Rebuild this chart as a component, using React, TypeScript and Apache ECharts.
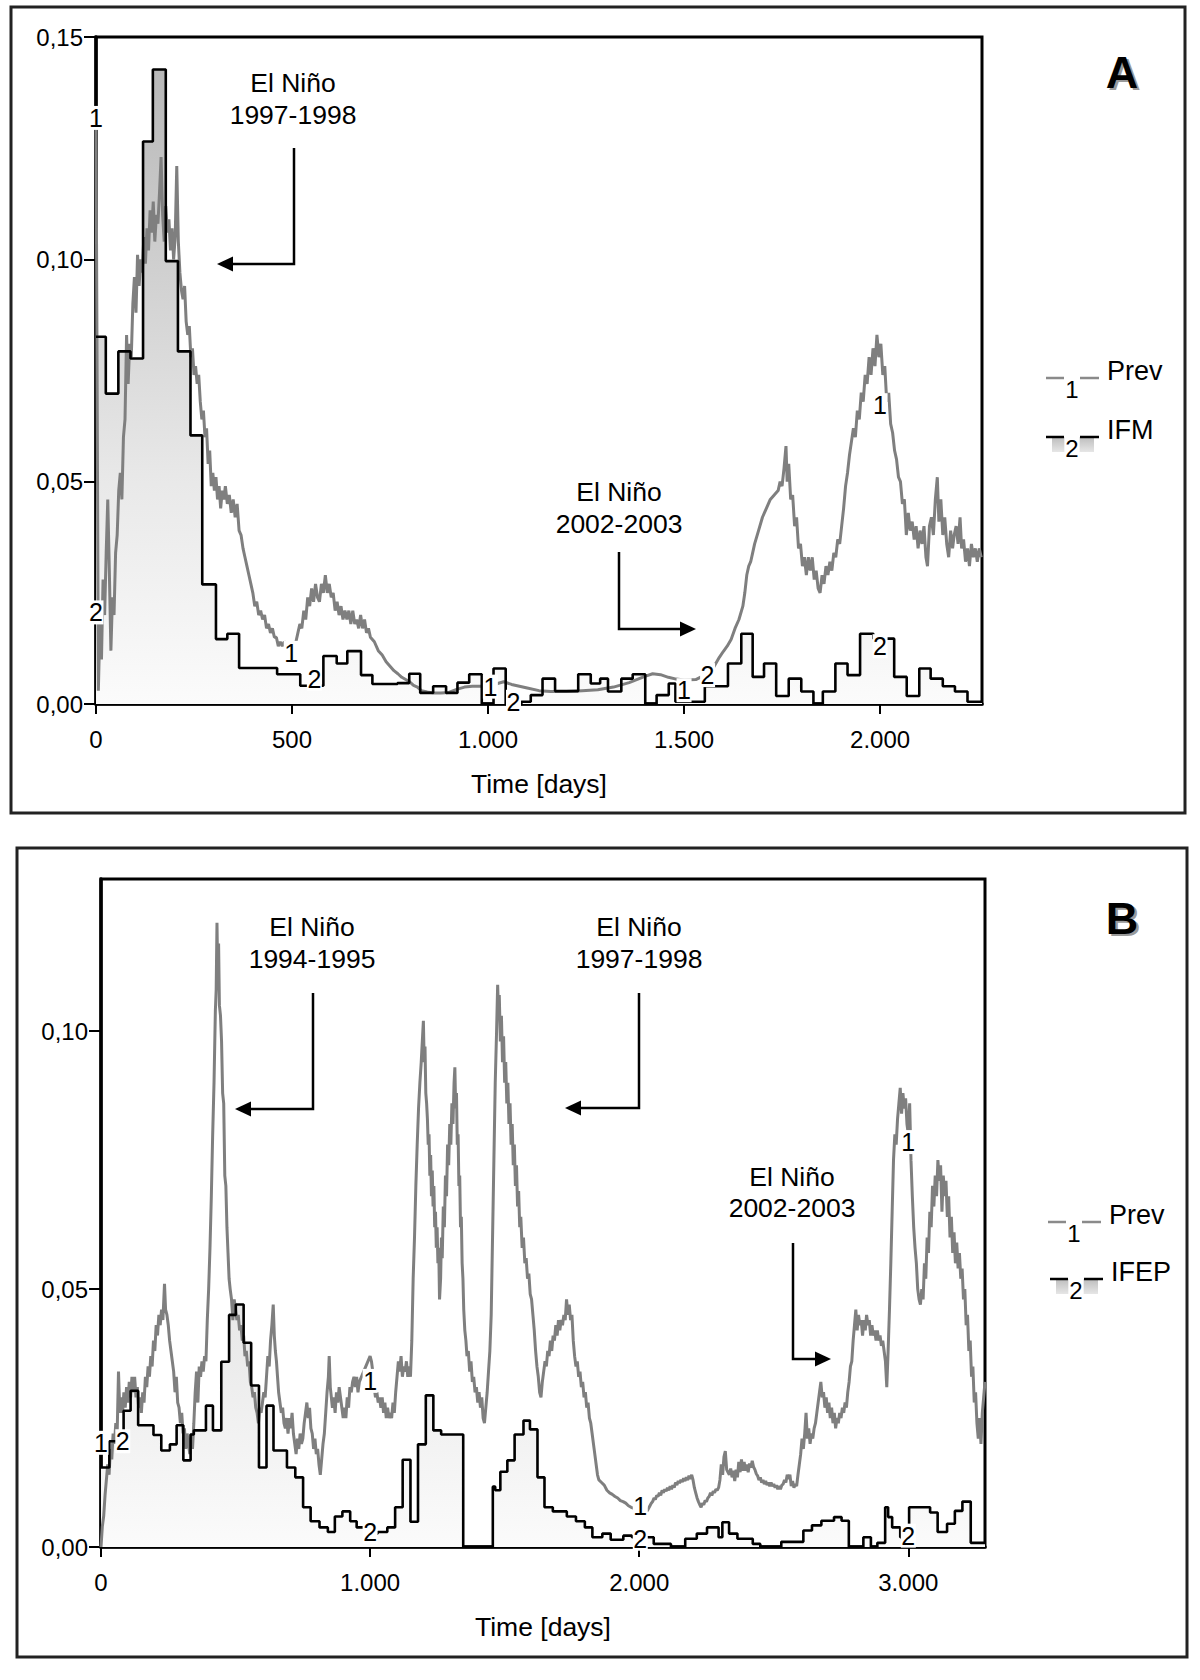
import React, { useEffect, useRef } from "react";
import * as echarts from "echarts";

const FONT = '"Liberation Sans", Arial, Helvetica, sans-serif';

// ---------------- Panel A ----------------
const xMaxA = 2260;
const yMaxA = 0.15;
const xTicksA = [0, 500, 1000, 1500, 2000];
const yTicksA = [0, 0.05, 0.1, 0.15];

const prevA: [number, number][] = [
  [0, 0.132], [3, 0.07], [6, 0.003], [10, 0.018], [14, 0.01], [18, 0.028], [22, 0.02], [26, 0.034],
  [30, 0.046], [34, 0.03], [38, 0.012], [42, 0.024], [46, 0.02], [50, 0.034], [54, 0.038], [58, 0.048],
  [62, 0.052], [66, 0.046], [70, 0.06], [74, 0.064], [78, 0.083], [82, 0.072], [86, 0.081], [90, 0.078],
  [94, 0.09], [98, 0.096], [102, 0.088], [106, 0.101], [110, 0.094], [114, 0.1], [118, 0.097], [122, 0.105],
  [126, 0.099], [130, 0.107], [134, 0.102], [138, 0.111], [142, 0.106], [146, 0.113], [150, 0.104], [154, 0.11],
  [158, 0.108], [162, 0.115], [166, 0.123], [170, 0.11], [174, 0.104], [178, 0.112], [182, 0.106], [186, 0.109],
  [190, 0.102], [194, 0.107], [198, 0.1], [202, 0.105], [206, 0.121], [210, 0.104], [214, 0.097], [218, 0.093],
  [222, 0.091], [226, 0.094], [230, 0.086], [234, 0.083], [238, 0.085], [242, 0.078], [246, 0.08], [250, 0.074],
  [254, 0.076], [258, 0.072], [262, 0.074], [266, 0.068], [270, 0.064], [274, 0.066], [278, 0.06], [282, 0.062],
  [286, 0.054], [290, 0.057], [294, 0.049], [298, 0.052], [302, 0.048], [306, 0.051], [310, 0.046], [314, 0.049],
  [318, 0.044], [322, 0.048], [326, 0.046], [330, 0.049], [335, 0.045], [340, 0.047], [345, 0.043], [350, 0.046],
  [355, 0.042], [360, 0.045], [365, 0.039], [370, 0.038], [375, 0.035], [380, 0.033], [385, 0.031], [390, 0.029],
  [395, 0.027], [400, 0.025], [405, 0.022], [410, 0.023], [415, 0.02], [420, 0.021], [425, 0.019], [430, 0.02],
  [435, 0.017], [440, 0.018], [445, 0.016], [450, 0.017], [455, 0.015], [460, 0.015], [465, 0.013], [470, 0.014],
  [475, 0.013], [480, 0.014], [490, 0.013], [500, 0.0125], [510, 0.014], [515, 0.016], [520, 0.018], [525, 0.017],
  [530, 0.021], [535, 0.019], [540, 0.024], [545, 0.022], [550, 0.026], [555, 0.023], [560, 0.027], [565, 0.024],
  [570, 0.023], [575, 0.027], [580, 0.025], [585, 0.029], [590, 0.025], [595, 0.027], [600, 0.024], [605, 0.025],
  [610, 0.021], [615, 0.023], [620, 0.02], [625, 0.022], [630, 0.019], [635, 0.021], [640, 0.019], [645, 0.021],
  [650, 0.018], [655, 0.021], [660, 0.018], [665, 0.019], [670, 0.017], [675, 0.02], [680, 0.017], [685, 0.019],
  [690, 0.016], [695, 0.017], [700, 0.015], [710, 0.014], [720, 0.012], [730, 0.011], [740, 0.0095], [750, 0.0085],
  [760, 0.0075], [770, 0.0068], [780, 0.006], [790, 0.0055], [800, 0.005], [810, 0.0042], [820, 0.0038], [830, 0.003],
  [845, 0.0027], [860, 0.0025], [880, 0.0025], [900, 0.0026], [920, 0.0033], [940, 0.0038], [960, 0.004], [980, 0.004],
  [1000, 0.004], [1020, 0.0045], [1040, 0.005], [1060, 0.0044], [1080, 0.004], [1100, 0.0036], [1130, 0.003], [1160, 0.0028],
  [1200, 0.0028], [1240, 0.003], [1280, 0.0032], [1320, 0.0038], [1360, 0.0048], [1400, 0.0062], [1420, 0.0068], [1440, 0.0066],
  [1460, 0.006], [1480, 0.0056], [1500, 0.0054], [1530, 0.0055], [1555, 0.0066], [1575, 0.0082], [1590, 0.0105], [1600, 0.0118],
  [1610, 0.013], [1620, 0.0145], [1630, 0.017], [1640, 0.019], [1650, 0.022], [1655, 0.025], [1660, 0.029], [1665, 0.031],
  [1670, 0.032], [1675, 0.034], [1680, 0.036], [1690, 0.039], [1700, 0.042], [1710, 0.044], [1720, 0.046], [1730, 0.047],
  [1740, 0.048], [1745, 0.05], [1750, 0.049], [1755, 0.053], [1760, 0.058], [1763, 0.05], [1767, 0.054], [1772, 0.046],
  [1777, 0.047], [1782, 0.04], [1787, 0.042], [1792, 0.035], [1797, 0.036], [1802, 0.031], [1807, 0.033], [1812, 0.029],
  [1817, 0.033], [1822, 0.03], [1827, 0.033], [1832, 0.028], [1837, 0.03], [1842, 0.026], [1847, 0.025], [1852, 0.029],
  [1857, 0.027], [1862, 0.031], [1867, 0.029], [1872, 0.032], [1877, 0.03], [1882, 0.034], [1887, 0.033], [1892, 0.037],
  [1897, 0.036], [1902, 0.04], [1907, 0.044], [1912, 0.049], [1917, 0.052], [1922, 0.056], [1927, 0.059], [1932, 0.062],
  [1937, 0.06], [1942, 0.066], [1947, 0.064], [1952, 0.07], [1957, 0.068], [1962, 0.074], [1967, 0.072], [1972, 0.078],
  [1977, 0.074], [1982, 0.08], [1987, 0.076], [1992, 0.083], [1997, 0.078], [2002, 0.081], [2007, 0.074], [2012, 0.076],
  [2017, 0.068], [2022, 0.07], [2027, 0.063], [2032, 0.061], [2037, 0.057], [2042, 0.055], [2047, 0.051], [2052, 0.05],
  [2057, 0.045], [2062, 0.046], [2067, 0.038], [2072, 0.043], [2077, 0.039], [2082, 0.041], [2087, 0.037], [2092, 0.04],
  [2097, 0.035], [2102, 0.039], [2107, 0.036], [2112, 0.04], [2117, 0.033], [2121, 0.031], [2126, 0.04], [2131, 0.042],
  [2136, 0.038], [2141, 0.046], [2146, 0.051], [2150, 0.041], [2155, 0.046], [2160, 0.038], [2165, 0.042], [2170, 0.036],
  [2175, 0.033], [2180, 0.039], [2185, 0.035], [2189, 0.038], [2194, 0.04], [2199, 0.036], [2204, 0.042], [2208, 0.035],
  [2213, 0.037], [2218, 0.032], [2223, 0.035], [2228, 0.031], [2233, 0.036], [2238, 0.033], [2243, 0.035], [2248, 0.032],
  [2253, 0.035], [2258, 0.033],
];

const ifmA: [number, number][] = [
  [0, 0.0826], [25, 0.0698], [57, 0.0793], [88, 0.0777], [120, 0.1265], [145, 0.1427], [178, 0.0996], [209, 0.0793],
  [241, 0.0604], [271, 0.0269], [306, 0.0146], [335, 0.0158], [365, 0.0081], [462, 0.0067], [521, 0.0041], [580, 0.0108],
  [614, 0.0091], [641, 0.0119], [676, 0.0065], [705, 0.0045], [769, 0.0047], [799, 0.0068], [827, 0.0025], [860, 0.004],
  [893, 0.0025], [922, 0.0048], [952, 0.0067], [984, 0.0], [1014, 0.008], [1045, 0.0], [1085, 0.0005], [1109, 0.002],
  [1139, 0.0057], [1171, 0.0029], [1230, 0.0067], [1262, 0.0046], [1286, 0.0057], [1306, 0.0028], [1340, 0.0057], [1369, 0.0067],
  [1401, 0.0], [1430, 0.002], [1461, 0.0046], [1478, 0.0005], [1553, 0.004], [1612, 0.0091], [1646, 0.0158], [1675, 0.0061],
  [1704, 0.0091], [1735, 0.0018], [1767, 0.0057], [1799, 0.0028], [1830, 0.0], [1854, 0.0028], [1886, 0.0091], [1917, 0.0065],
  [1949, 0.0158], [1983, 0.0147], [2036, 0.0061], [2068, 0.0018], [2100, 0.008], [2129, 0.0057], [2160, 0.004], [2191, 0.0028],
  [2223, 0.0005], [2260, 0.0005],
];

const prevLabelsA: [number, number][] = [[0, 0.1318], [498, 0.0115], [1006, 0.0039], [1500, 0.0031], [2000, 0.0672]];
const ifmLabelsA: [number, number][] = [[0, 0.0206], [557, 0.0057], [1065, 0.0005], [1560, 0.0065], [2000, 0.013]];

// ---------------- Panel B ----------------
const xMaxB = 3285;
const yMaxB = 0.1295;
const xTicksB = [0, 1000, 2000, 3000];
const yTicksB = [0, 0.05, 0.1];

const prevB: [number, number][] = [
  [0, 0.0], [5, 0.004], [10, 0.006], [15, 0.01], [20, 0.013], [25, 0.016], [30, 0.014], [35, 0.019],
  [40, 0.017], [45, 0.022], [50, 0.02], [55, 0.024], [60, 0.022], [65, 0.034], [70, 0.026], [75, 0.029],
  [80, 0.026], [85, 0.03], [90, 0.027], [95, 0.031], [100, 0.028], [105, 0.032], [110, 0.029], [115, 0.033],
  [120, 0.03], [125, 0.033], [130, 0.029], [135, 0.031], [140, 0.027], [145, 0.029], [150, 0.026], [155, 0.03],
  [160, 0.028], [165, 0.033], [170, 0.031], [175, 0.035], [180, 0.033], [185, 0.037], [190, 0.035], [195, 0.04],
  [200, 0.038], [205, 0.043], [210, 0.041], [215, 0.045], [220, 0.043], [225, 0.046], [230, 0.044], [236, 0.051],
  [240, 0.046], [245, 0.045], [250, 0.043], [255, 0.04], [260, 0.038], [265, 0.036], [270, 0.034], [275, 0.03],
  [280, 0.033], [285, 0.028], [290, 0.027], [295, 0.024], [300, 0.026], [305, 0.022], [310, 0.023], [315, 0.019],
  [320, 0.022], [325, 0.02], [330, 0.018], [335, 0.022], [340, 0.019], [345, 0.024], [350, 0.03], [355, 0.034],
  [360, 0.028], [365, 0.035], [370, 0.033], [375, 0.036], [380, 0.034], [385, 0.037], [390, 0.036], [395, 0.044],
  [400, 0.05], [405, 0.058], [410, 0.068], [415, 0.08], [420, 0.09], [425, 0.104], [428, 0.108], [431, 0.121],
  [434, 0.11], [437, 0.117], [440, 0.105], [444, 0.103], [448, 0.098], [452, 0.088], [456, 0.086], [460, 0.072],
  [464, 0.07], [468, 0.062], [472, 0.057], [476, 0.052], [480, 0.05], [485, 0.048], [490, 0.044], [495, 0.048],
  [500, 0.046], [505, 0.044], [510, 0.045], [515, 0.042], [520, 0.043], [525, 0.04], [530, 0.041], [535, 0.037],
  [540, 0.038], [545, 0.035], [550, 0.036], [555, 0.032], [560, 0.031], [565, 0.029], [570, 0.03], [575, 0.027],
  [580, 0.026], [585, 0.024], [590, 0.027], [595, 0.026], [600, 0.028], [605, 0.03], [610, 0.029], [615, 0.033],
  [620, 0.037], [625, 0.035], [630, 0.04], [635, 0.043], [640, 0.047], [644, 0.041], [648, 0.038], [652, 0.036],
  [656, 0.033], [660, 0.03], [665, 0.028], [670, 0.026], [675, 0.027], [680, 0.024], [685, 0.023], [690, 0.025],
  [695, 0.022], [700, 0.025], [705, 0.023], [710, 0.026], [715, 0.022], [720, 0.02], [725, 0.018], [730, 0.021],
  [735, 0.019], [740, 0.022], [745, 0.02], [750, 0.021], [755, 0.024], [760, 0.026], [765, 0.028], [770, 0.025],
  [775, 0.027], [780, 0.023], [785, 0.022], [790, 0.019], [795, 0.021], [800, 0.018], [805, 0.019], [810, 0.016],
  [815, 0.014], [820, 0.017], [825, 0.02], [830, 0.022], [835, 0.026], [840, 0.03], [845, 0.033], [848, 0.037],
  [852, 0.031], [856, 0.029], [860, 0.027], [865, 0.029], [870, 0.026], [875, 0.03], [880, 0.028], [885, 0.031],
  [890, 0.029], [895, 0.027], [900, 0.025], [905, 0.027], [910, 0.025], [915, 0.029], [920, 0.027], [925, 0.031],
  [930, 0.03], [935, 0.032], [940, 0.033], [945, 0.031], [950, 0.033], [955, 0.03], [960, 0.032], [1000, 0.037],
  [1005, 0.036], [1010, 0.034], [1015, 0.031], [1020, 0.029], [1025, 0.03], [1030, 0.028], [1035, 0.029], [1040, 0.027],
  [1045, 0.029], [1050, 0.026], [1055, 0.028], [1060, 0.025], [1065, 0.027], [1070, 0.025], [1075, 0.026], [1080, 0.025],
  [1085, 0.028], [1090, 0.026], [1095, 0.03], [1100, 0.033], [1105, 0.036], [1110, 0.034], [1115, 0.037], [1120, 0.033],
  [1125, 0.035], [1130, 0.034], [1135, 0.036], [1140, 0.033], [1145, 0.035], [1150, 0.033], [1155, 0.04], [1160, 0.052],
  [1165, 0.06], [1170, 0.07], [1175, 0.078], [1180, 0.085], [1185, 0.09], [1190, 0.094], [1195, 0.099], [1198, 0.102],
  [1201, 0.094], [1204, 0.097], [1207, 0.088], [1210, 0.086], [1213, 0.083], [1216, 0.078], [1219, 0.08], [1222, 0.072],
  [1225, 0.076], [1228, 0.068], [1231, 0.073], [1234, 0.066], [1237, 0.07], [1240, 0.062], [1243, 0.065], [1246, 0.058],
  [1249, 0.062], [1252, 0.055], [1255, 0.058], [1258, 0.048], [1262, 0.052], [1265, 0.06], [1268, 0.056], [1272, 0.066],
  [1276, 0.062], [1280, 0.072], [1284, 0.068], [1288, 0.078], [1292, 0.074], [1296, 0.082], [1300, 0.078], [1304, 0.086],
  [1308, 0.082], [1312, 0.09], [1315, 0.093], [1318, 0.085], [1321, 0.088], [1324, 0.078], [1327, 0.08], [1330, 0.07],
  [1333, 0.072], [1336, 0.062], [1339, 0.064], [1342, 0.055], [1345, 0.052], [1348, 0.046], [1352, 0.042], [1356, 0.04],
  [1360, 0.037], [1365, 0.038], [1370, 0.034], [1375, 0.036], [1380, 0.032], [1385, 0.033], [1390, 0.03], [1395, 0.031],
  [1400, 0.028], [1405, 0.03], [1410, 0.027], [1415, 0.029], [1420, 0.025], [1425, 0.024], [1430, 0.027], [1435, 0.03],
  [1440, 0.034], [1445, 0.038], [1450, 0.045], [1455, 0.06], [1460, 0.075], [1465, 0.09], [1470, 0.1], [1474, 0.109],
  [1477, 0.104], [1480, 0.107], [1484, 0.098], [1488, 0.103], [1492, 0.094], [1496, 0.099], [1500, 0.09], [1504, 0.094],
  [1508, 0.086], [1512, 0.09], [1516, 0.082], [1520, 0.086], [1524, 0.078], [1528, 0.082], [1532, 0.074], [1536, 0.078],
  [1540, 0.07], [1544, 0.074], [1548, 0.066], [1552, 0.069], [1556, 0.062], [1560, 0.064], [1565, 0.058], [1570, 0.06],
  [1575, 0.055], [1580, 0.056], [1585, 0.052], [1590, 0.053], [1595, 0.049], [1600, 0.048], [1605, 0.045], [1610, 0.042],
  [1615, 0.038], [1620, 0.035], [1625, 0.033], [1630, 0.03], [1635, 0.029], [1640, 0.032], [1645, 0.034], [1650, 0.036],
  [1655, 0.035], [1660, 0.038], [1665, 0.037], [1670, 0.04], [1675, 0.038], [1680, 0.041], [1685, 0.04], [1690, 0.043],
  [1695, 0.041], [1700, 0.044], [1705, 0.042], [1710, 0.044], [1715, 0.043], [1720, 0.045], [1725, 0.044], [1730, 0.048],
  [1735, 0.045], [1740, 0.047], [1745, 0.044], [1750, 0.045], [1755, 0.04], [1760, 0.037], [1765, 0.035], [1770, 0.036],
  [1775, 0.033], [1780, 0.034], [1785, 0.031], [1790, 0.032], [1795, 0.029], [1800, 0.03], [1805, 0.027], [1810, 0.028],
  [1815, 0.025], [1820, 0.024], [1825, 0.022], [1830, 0.02], [1835, 0.018], [1840, 0.016], [1845, 0.014], [1850, 0.013],
  [1860, 0.0125], [1870, 0.012], [1880, 0.011], [1890, 0.0105], [1900, 0.0102], [1910, 0.0098], [1920, 0.0095], [1930, 0.009],
  [1940, 0.0088], [1950, 0.0085], [1960, 0.008], [1970, 0.0077], [1980, 0.0075], [2030, 0.007], [2035, 0.0075], [2040, 0.008],
  [2045, 0.0085], [2050, 0.0088], [2055, 0.0095], [2060, 0.0092], [2065, 0.01], [2070, 0.0098], [2075, 0.0105], [2080, 0.01],
  [2085, 0.011], [2090, 0.0105], [2095, 0.0112], [2100, 0.0108], [2105, 0.0115], [2110, 0.011], [2115, 0.0118], [2120, 0.0112],
  [2125, 0.012], [2130, 0.0115], [2135, 0.0125], [2140, 0.012], [2145, 0.0128], [2150, 0.0124], [2155, 0.013], [2160, 0.0126],
  [2165, 0.0133], [2170, 0.0128], [2175, 0.0135], [2180, 0.013], [2185, 0.0138], [2190, 0.0132], [2195, 0.014], [2200, 0.013],
  [2205, 0.0115], [2210, 0.0105], [2215, 0.0095], [2220, 0.0088], [2225, 0.0082], [2230, 0.0077], [2235, 0.0085], [2240, 0.0082],
  [2245, 0.009], [2250, 0.0088], [2255, 0.0095], [2260, 0.0098], [2265, 0.0105], [2270, 0.01], [2275, 0.0108], [2280, 0.0105],
  [2285, 0.0112], [2290, 0.011], [2295, 0.0115], [2300, 0.013], [2305, 0.016], [2310, 0.014], [2315, 0.0175], [2320, 0.0186],
  [2325, 0.015], [2330, 0.0145], [2335, 0.014], [2340, 0.0152], [2345, 0.0135], [2350, 0.0148], [2355, 0.0128], [2360, 0.015],
  [2365, 0.0135], [2370, 0.0165], [2375, 0.0145], [2380, 0.017], [2385, 0.0148], [2390, 0.0165], [2395, 0.0148], [2400, 0.016],
  [2405, 0.0145], [2410, 0.0162], [2415, 0.0154], [2420, 0.0167], [2425, 0.0155], [2430, 0.015], [2435, 0.0142], [2440, 0.0138],
  [2445, 0.013], [2450, 0.0135], [2455, 0.0125], [2460, 0.013], [2465, 0.0122], [2470, 0.0128], [2475, 0.012], [2480, 0.0125],
  [2485, 0.0118], [2490, 0.0125], [2495, 0.0118], [2500, 0.0122], [2505, 0.0115], [2510, 0.012], [2515, 0.0112], [2520, 0.0118],
  [2525, 0.0112], [2530, 0.012], [2535, 0.0122], [2540, 0.013], [2545, 0.0125], [2550, 0.014], [2555, 0.0132], [2560, 0.014],
  [2565, 0.0118], [2570, 0.0128], [2575, 0.0115], [2580, 0.0122], [2585, 0.0118], [2590, 0.014], [2595, 0.016], [2600, 0.018],
  [2605, 0.021], [2610, 0.019], [2615, 0.022], [2620, 0.026], [2625, 0.021], [2630, 0.023], [2635, 0.02], [2640, 0.022],
  [2645, 0.021], [2650, 0.023], [2655, 0.024], [2660, 0.026], [2665, 0.028], [2670, 0.03], [2675, 0.032], [2680, 0.029],
  [2685, 0.03], [2690, 0.027], [2695, 0.029], [2700, 0.026], [2705, 0.028], [2710, 0.025], [2715, 0.027], [2720, 0.024],
  [2725, 0.026], [2730, 0.023], [2735, 0.025], [2740, 0.024], [2745, 0.026], [2750, 0.025], [2755, 0.027], [2760, 0.026],
  [2765, 0.028], [2770, 0.027], [2775, 0.03], [2780, 0.032], [2785, 0.035], [2790, 0.036], [2795, 0.04], [2800, 0.043],
  [2805, 0.046], [2810, 0.042], [2815, 0.045], [2820, 0.043], [2825, 0.044], [2830, 0.041], [2835, 0.044], [2840, 0.042],
  [2845, 0.045], [2850, 0.043], [2855, 0.044], [2860, 0.041], [2865, 0.043], [2870, 0.041], [2875, 0.042], [2880, 0.04],
  [2885, 0.042], [2890, 0.04], [2895, 0.041], [2900, 0.039], [2905, 0.04], [2910, 0.038], [2915, 0.036], [2920, 0.031],
  [2925, 0.038], [2930, 0.046], [2935, 0.055], [2940, 0.065], [2945, 0.075], [2950, 0.08], [2955, 0.078], [2960, 0.083],
  [2965, 0.086], [2970, 0.089], [2975, 0.084], [2980, 0.088], [2985, 0.085], [2990, 0.087], [2995, 0.082], [3000, 0.08],
  [3005, 0.086], [3010, 0.075], [3015, 0.068], [3020, 0.062], [3025, 0.058], [3030, 0.055], [3035, 0.05], [3040, 0.048],
  [3045, 0.047], [3050, 0.05], [3055, 0.048], [3060, 0.055], [3065, 0.052], [3070, 0.06], [3075, 0.057], [3080, 0.065],
  [3085, 0.062], [3090, 0.07], [3095, 0.066], [3100, 0.072], [3105, 0.068], [3110, 0.075], [3115, 0.071], [3120, 0.074],
  [3125, 0.065], [3130, 0.072], [3135, 0.068], [3140, 0.071], [3145, 0.064], [3150, 0.068], [3155, 0.06], [3160, 0.064],
  [3165, 0.057], [3170, 0.061], [3175, 0.055], [3180, 0.059], [3185, 0.054], [3190, 0.057], [3195, 0.052], [3200, 0.054],
  [3205, 0.048], [3210, 0.05], [3215, 0.043], [3220, 0.045], [3225, 0.038], [3230, 0.04], [3235, 0.033], [3240, 0.035],
  [3245, 0.028], [3250, 0.03], [3255, 0.024], [3260, 0.021], [3265, 0.025], [3270, 0.02], [3275, 0.026], [3280, 0.029],
  [3285, 0.032],
];

const ifepB: [number, number][] = [
  [0, 0.0154], [31, 0.0205], [84, 0.0264], [110, 0.0303], [138, 0.0236], [195, 0.0217], [224, 0.0187], [256, 0.0199],
  [281, 0.0236], [306, 0.0168], [333, 0.0218], [345, 0.0226], [390, 0.0274], [416, 0.0226], [447, 0.0359], [476, 0.045],
  [501, 0.047], [530, 0.0396], [558, 0.0313], [587, 0.0154], [615, 0.0274], [641, 0.0187], [691, 0.0154], [722, 0.0135],
  [751, 0.0077], [779, 0.005], [812, 0.0038], [843, 0.0029], [869, 0.0059], [897, 0.0069], [926, 0.005], [950, 0.0038],
  [979, 0.0026], [1028, 0.0029], [1064, 0.0038], [1093, 0.0077], [1121, 0.0169], [1150, 0.0049], [1178, 0.0199], [1207, 0.0294],
  [1235, 0.0226], [1264, 0.0218], [1346, 0.0], [1456, 0.0117], [1465, 0.011], [1484, 0.0146], [1510, 0.0168], [1537, 0.0218],
  [1570, 0.0245], [1594, 0.0228], [1622, 0.0135], [1648, 0.0077], [1679, 0.0069], [1731, 0.0059], [1765, 0.005], [1798, 0.0038],
  [1826, 0.0019], [1863, 0.0026], [1894, 0.0014], [1941, 0.0022], [1973, 0.0019], [2054, 0.0006], [2118, 0.0], [2171, 0.0016],
  [2214, 0.0026], [2252, 0.0038], [2295, 0.0019], [2309, 0.0048], [2334, 0.0026], [2365, 0.0016], [2422, 0.0006], [2450, 0.0],
  [2528, 0.001], [2610, 0.0032], [2642, 0.0042], [2677, 0.0051], [2724, 0.0058], [2752, 0.0051], [2779, 0.0], [2833, 0.0019],
  [2861, 0.0], [2885, 0.0008], [2914, 0.0077], [2925, 0.0058], [2940, 0.0038], [2970, 0.0019], [3003, 0.0077], [3081, 0.0067],
  [3109, 0.0029], [3144, 0.0045], [3173, 0.007], [3201, 0.0088], [3232, 0.0008], [3285, 0.0008],
];

const prevLabelsB: [number, number][] = [[0, 0.0202], [1000, 0.0322], [2004, 0.0079], [3000, 0.0785]];
const ifepLabelsB: [number, number][] = [[81, 0.0205], [1000, 0.0029], [2004, 0.0016], [3000, 0.0022]];

// ---------------- helpers ----------------
const fmtX = (v: number) =>
  v >= 1000 ? `${Math.floor(v / 1000)}.${String(Math.round(v % 1000)).padStart(3, "0")}` : String(v);
const fmtY = (v: number) => v.toFixed(2).replace(".", ",");

const inList = (list: number[], v: number) => list.some((t) => Math.abs(t - v) < 1e-9);

const GRID_A = { left: 96, top: 37, width: 886, height: 667 };
const GRID_B = { left: 101, top: 879, width: 884, height: 668 };

function makeX(gridIndex: number, max: number, interval: number, ticks: number[]) {
  return [
    {
      type: "value",
      gridIndex,
      min: 0,
      max,
      interval,
      axisLine: { show: true, onZero: false, lineStyle: { color: "#000", width: 3.5 } },
      axisTick: { show: true, length: 10, customValues: ticks, lineStyle: { color: "#000", width: 2 } },
      axisLabel: {
        show: true,
        customValues: ticks,
        margin: 23,
        fontSize: 24,
        fontFamily: FONT,
        color: "#000",
        formatter: (v: number) => (inList(ticks, v) ? fmtX(v) : ""),
      },
      splitLine: { show: false },
    },
    {
      type: "value",
      gridIndex,
      min: 0,
      max,
      interval,
      axisLine: { show: false },
      axisTick: { show: true, inside: true, length: 6, customValues: ticks, lineStyle: { color: "#000", width: 2 } },
      axisLabel: { show: false },
      splitLine: { show: false },
    },
  ];
}

function makeY(gridIndex: number, max: number, ticks: number[]) {
  return {
    type: "value",
    gridIndex,
    min: 0,
    max,
    interval: 0.05,
    axisLine: { show: true, onZero: false, lineStyle: { color: "#000", width: 3.5 } },
    axisTick: { show: true, length: 12, customValues: ticks, lineStyle: { color: "#000", width: 2 } },
    axisLabel: {
      show: true,
      customValues: ticks,
      margin: 13,
      fontSize: 24,
      fontFamily: FONT,
      color: "#000",
      formatter: (v: number) => (inList(ticks, v) ? fmtY(v) : ""),
    },
    splitLine: { show: false },
  };
}

function labelPoints(points: [number, number][], name: string) {
  return {
    symbol: "rect",
    symbolSize: [15, 24],
    itemStyle: { color: "#fff" },
    label: {
      show: true,
      position: "inside",
      formatter: name,
      color: "#000",
      fontSize: 25,
      fontFamily: FONT,
    },
    silent: true,
    data: points.map((p) => ({ coord: p, name })),
  };
}

function panelSeries(
  xIdx: number,
  yIdx: number,
  prev: [number, number][],
  step: [number, number][],
  prevLabels: [number, number][],
  stepLabels: [number, number][],
  grid: { top: number; height: number }
) {
  const grad = new echarts.graphic.LinearGradient(
    0,
    grid.top,
    0,
    grid.top + grid.height,
    [
      { offset: 0, color: "#b4b4b4" },
      { offset: 0.4, color: "#d4d4d4" },
      { offset: 0.67, color: "#e9e9e9" },
      { offset: 1, color: "#fbfbfb" },
    ],
    true
  );
  return [
    {
      type: "line",
      xAxisIndex: xIdx,
      yAxisIndex: yIdx,
      data: step,
      step: "end",
      showSymbol: false,
      symbol: "none",
      lineStyle: { width: 0, opacity: 0 },
      areaStyle: { color: grad, opacity: 1 },
      z: 1,
      silent: true,
    },
    {
      type: "line",
      xAxisIndex: xIdx,
      yAxisIndex: yIdx,
      data: prev,
      showSymbol: false,
      symbol: "none",
      lineStyle: { color: "#7f7f7f", width: 3 },
      z: 2,
      silent: true,
      markPoint: labelPoints(prevLabels, "1"),
    },
    {
      type: "line",
      xAxisIndex: xIdx,
      yAxisIndex: yIdx,
      data: step,
      step: "end",
      showSymbol: false,
      symbol: "none",
      lineStyle: { color: "#000", width: 2.6 },
      z: 3,
      silent: true,
      markPoint: labelPoints(stepLabels, "2"),
    },
  ];
}

function txt(x: number, y: number, text: string, size: number, opts: any = {}) {
  return {
    type: "text",
    x,
    y,
    z: 10,
    silent: true,
    style: {
      text,
      fontSize: size,
      fontFamily: FONT,
      fill: opts.fill || "#000",
      fontWeight: opts.weight || "normal",
      align: opts.align || "center",
      verticalAlign: "middle",
      backgroundColor: opts.bg,
      padding: opts.bg ? [0, 1] : 0,
    },
  };
}

function arrow(vx: number, y1: number, y2: number, tipX: number) {
  const dir = tipX < vx ? -1 : 1;
  const base = tipX - dir * 16;
  return [
    {
      type: "polyline",
      z: 10,
      silent: true,
      shape: { points: [[vx, y1], [vx, y2], [base, y2]] },
      style: { stroke: "#000", lineWidth: 2.5, fill: null },
    },
    {
      type: "polygon",
      z: 10,
      silent: true,
      shape: { points: [[tipX, y2], [base, y2 - 7.5], [base, y2 + 7.5]] },
      style: { fill: "#000" },
    },
  ];
}

function legend(x0: number, lineY: number, name: string, digit: string, kind: "prev" | "step") {
  const els: any[] = [];
  const color = kind === "prev" ? "#8a8a8a" : "#000";
  if (kind === "step") {
    els.push({
      type: "rect",
      z: 9,
      silent: true,
      shape: { x: x0 + 6, y: lineY, width: 42, height: 15 },
      style: {
        fill: new echarts.graphic.LinearGradient(0, 0, 0, 1, [
          { offset: 0, color: "#bdbdbd" },
          { offset: 1, color: "#e6e6e6" },
        ]),
      },
    });
  }
  els.push({
    type: "line",
    z: 10,
    silent: true,
    shape: { x1: x0, y1: lineY, x2: x0 + 18, y2: lineY },
    style: { stroke: color, lineWidth: 2.5 },
  });
  els.push({
    type: "line",
    z: 10,
    silent: true,
    shape: { x1: x0 + 34, y1: lineY, x2: x0 + 53, y2: lineY },
    style: { stroke: color, lineWidth: 2.5 },
  });
  els.push(txt(x0 + 26, lineY + 11, digit, 24, kind === "step" ? { bg: "#fff" } : {}));
  els.push(txt(x0 + 61, lineY - 7, name, 27, { align: "left" }));
  return els;
}

function bigLetter(x: number, y: number, letter: string) {
  return [
    txt(x + 2.5, y + 2.5, letter, 45, { weight: "bold", fill: "#9a9a9a" }),
    txt(x, y, letter, 45, { weight: "bold" }),
  ];
}

export default function App() {
  const ref = useRef<HTMLDivElement>(null);

  useEffect(() => {
    if (!ref.current) return;
    const chart = echarts.init(ref.current, undefined, { renderer: "svg" });

    const graphic: any[] = [
      // outer frames
      {
        type: "rect",
        z: 0,
        silent: true,
        shape: { x: 11, y: 7, width: 1174, height: 806 },
        style: { fill: "transparent", stroke: "#222", lineWidth: 3 },
      },
      {
        type: "rect",
        z: 0,
        silent: true,
        shape: { x: 17, y: 848, width: 1170, height: 809 },
        style: { fill: "transparent", stroke: "#222", lineWidth: 3 },
      },
      // Panel A annotations
      txt(293, 83, "El Niño", 26.5),
      txt(293, 115, "1997-1998", 26.5),
      ...arrow(294, 148, 264, 217),
      txt(619, 492, "El Niño", 26.5),
      txt(619, 524, "2002-2003", 26.5),
      ...arrow(619, 552, 629, 696),
      txt(539, 784, "Time [days]", 26.5),
      ...bigLetter(1122, 72, "A"),
      ...legend(1046, 378, "Prev", "1", "prev"),
      ...legend(1046, 437, "IFM", "2", "step"),
      // Panel B annotations
      txt(312, 927, "El Niño", 26.5),
      txt(312, 959, "1994-1995", 26.5),
      ...arrow(313, 993, 1109, 235),
      txt(639, 927, "El Niño", 26.5),
      txt(639, 959, "1997-1998", 26.5),
      ...arrow(639, 993, 1108, 565),
      txt(792, 1177, "El Niño", 26.5),
      txt(792, 1208, "2002-2003", 26.5),
      ...arrow(793, 1243, 1359, 831),
      txt(543, 1627, "Time [days]", 26.5),
      ...bigLetter(1122, 918, "B"),
      ...legend(1048, 1222, "Prev", "1", "prev"),
      ...legend(1050, 1279, "IFEP", "2", "step"),
    ];

    const option: any = {
      animation: false,
      backgroundColor: "#fff",
      textStyle: { fontFamily: FONT },
      grid: [
        { ...GRID_A, show: true, borderColor: "#000", borderWidth: 3, backgroundColor: "transparent" },
        { ...GRID_B, show: true, borderColor: "#000", borderWidth: 3, backgroundColor: "transparent" },
      ],
      xAxis: [...makeX(0, xMaxA, 500, xTicksA), ...makeX(1, xMaxB, 1000, xTicksB)],
      yAxis: [makeY(0, yMaxA, yTicksA), makeY(1, yMaxB, yTicksB)],
      series: [
        ...panelSeries(0, 0, prevA, ifmA, prevLabelsA, ifmLabelsA, GRID_A),
        ...panelSeries(2, 1, prevB, ifepB, prevLabelsB, ifepLabelsB, GRID_B),
      ],
      graphic,
    };

    chart.setOption(option);
    return () => {
      chart.dispose();
    };
  }, []);

  return (
    <div
      ref={ref}
      style={{ position: "absolute", left: 0, top: 0, width: 1200, height: 1680, background: "#fff" }}
    />
  );
}
